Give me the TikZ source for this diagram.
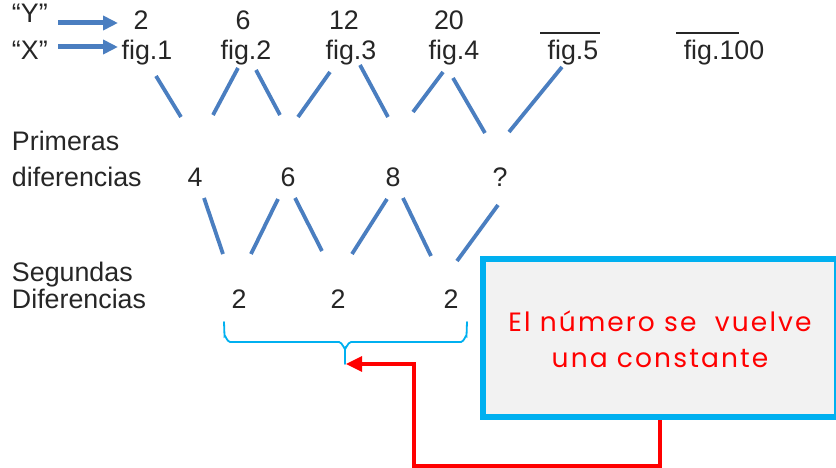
\documentclass[tikz,border=0pt]{standalone}
\usepackage{fontspec}
\setmainfont{Liberation Sans}
\newfontfamily\boxfont[LetterSpace=8]{Poppins}
\usetikzlibrary{arrows.meta}
\definecolor{txt}{HTML}{262626}
\definecolor{strokeblue}{HTML}{4A7EC0}
\definecolor{cyanc}{HTML}{00B0F0}
\definecolor{boxg}{HTML}{F2F2F2}
\definecolor{redc}{HTML}{FF0000}
\begin{document}
\begin{tikzpicture}[x=1pt,y=-1pt,
  lbl/.style={text=txt,font=\fontsize{26.8}{30}\selectfont,inner sep=0pt,outer sep=0pt},
  stroke/.style={draw=strokeblue,line width=3.8pt},
  xyarrow/.style={draw=strokeblue,line width=5pt,-{Triangle[length=15pt,width=14pt]}},
  blank/.style={draw=txt,line width=1.8pt},
  msgtxt/.style={text=redc,font=\boxfont\fontsize{26.5}{30}\selectfont,inner sep=0pt},
  redarrow/.style={draw=redc,line width=3.2pt,-{Triangle[length=16pt,width=15pt]}},
  bracestyle/.style={draw=cyanc,line width=1.8pt,line cap=round}
]
\useasboundingbox[fill=white] (0,0) rectangle (836,468);

% header labels
\node[lbl,anchor=base west] (ylab) at (12,23) {“Y”};
\node[lbl,anchor=base west] (xlab) at (12,60) {“X”};
\coordinate (ya) at (58,23);
\coordinate (yb) at (118,23);
\coordinate (xa) at (58,47);
\coordinate (xb) at (118,47);
\draw[xyarrow] (ya) -- (yb);
\draw[xyarrow] (xa) -- (xb);

% Y values
\node[lbl,anchor=base] (n1) at (141,30) {2};
\node[lbl,anchor=base] (n2) at (243,30) {6};
\node[lbl,anchor=base] (n3) at (344,30) {12};
\node[lbl,anchor=base] (n4) at (449,30) {20};

% figures
\node[lbl,anchor=base] (f1) at (147,60) {fig.1};
\node[lbl,anchor=base] (f2) at (246,60) {fig.2};
\node[lbl,anchor=base] (f3) at (351,60) {fig.3};
\node[lbl,anchor=base] (f4) at (454,60) {fig.4};
\node[lbl,anchor=base] (f5) at (573,60) {fig.5};
\node[lbl,anchor=base] (f100) at (724,60) {fig.100};
\draw[blank] (540,33) -- (600,33);
\draw[blank] (676,33) -- (739,33);

% first strokes
\draw[stroke] (156,76) -- (181,117);
\draw[stroke] (213,115) -- (238,68);
\draw[stroke] (256,70) -- (280,115);
\draw[stroke] (298,117) -- (330,72);
\draw[stroke] (360,65) -- (388,117);
\draw[stroke] (413,112) -- (443,72);
\draw[stroke] (453,78) -- (485,133);
\draw[stroke] (509,132) -- (562,67);

% first differences
\node[lbl,anchor=base west] (prim1) at (12,151) {Primeras};
\node[lbl,anchor=base west] (prim2) at (12,186) {diferencias};
\node[lbl,anchor=base] (d1) at (195,186) {4};
\node[lbl,anchor=base] (d2) at (288,186) {6};
\node[lbl,anchor=base] (d3) at (393,186) {8};
\node[lbl,anchor=base] (d4) at (500,186) {?};

% second strokes
\draw[stroke] (204,198) -- (223,254);
\draw[stroke] (251,254) -- (278,199);
\draw[stroke] (295,198) -- (322,251);
\draw[stroke] (352,254) -- (387,199);
\draw[stroke] (403,198) -- (431,256);
\draw[stroke] (457,261) -- (498,205);

% second differences
\node[lbl,anchor=base west] (seg1) at (12,281) {Segundas};
\node[lbl,anchor=base west] (seg2) at (12,308) {Diferencias};
\node[lbl,anchor=base] (s1) at (239,308) {2};
\node[lbl,anchor=base] (s2) at (338,308) {2};
\node[lbl,anchor=base] (s3) at (451,308) {2};

% brace
\draw[bracestyle] (224,322) -- (224.5,336) to[out=90,in=180] (230,342) -- (339,342) to[out=0,in=-90] (345,348) -- (345,364);
\draw[bracestyle] (467,322) -- (466.5,336) to[out=90,in=0] (461,342) -- (351,342) to[out=180,in=-90] (345,348);
\coordinate (tip) at (346,364);

% message box
\node[draw=cyanc,line width=6pt,fill=boxg,minimum width=354pt,minimum height=158pt,
      anchor=north west,inner sep=0pt,outer sep=0pt] (box) at (483,259) {};
\node[msgtxt,anchor=base] (msg1) at (660,331) {El número se\ \ vuelve};
\node[msgtxt,anchor=base] (msg2) at (660,367) {una constante};

% red connector
\draw[redarrow] ([yshift=-3pt]box.south) |- (414,466) -- (414,364) -- (tip);
\end{tikzpicture}
\end{document}
